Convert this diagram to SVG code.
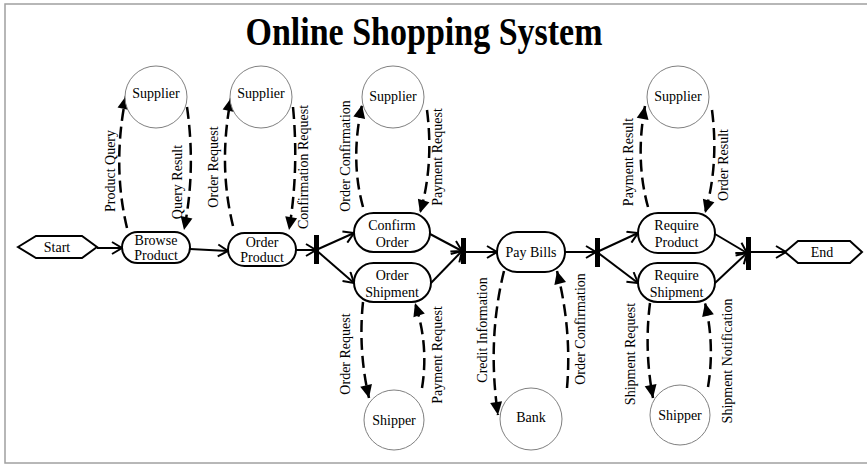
<svg xmlns="http://www.w3.org/2000/svg" width="867" height="466" viewBox="0 0 867 466">
<style>
  text { font-family: "Liberation Serif", "Times New Roman", serif; font-size: 14px; fill: #000; }
  .title { font-size: 34px; font-weight: bold; }
  .node { fill: #fff; stroke: #000; stroke-width: 2; }
  .actor { fill: #fff; stroke: #808080; stroke-width: 1; }
  .flow { fill: none; stroke: #000; stroke-width: 2; marker-end: url(#open); }
  .msg { fill: none; stroke: #000; stroke-width: 2.5; stroke-dasharray: 12 6; marker-end: url(#tri); }
  .bar { fill: #000; }
  .c { text-anchor: middle; }
</style>
<defs>
  <marker id="open" markerUnits="userSpaceOnUse" viewBox="-12 -7 14 14" refX="0" refY="0" markerWidth="14" markerHeight="14" orient="auto">
    <path d="M-10,-6 L0,0 L-10,6" fill="none" stroke="#000" stroke-width="2"/>
  </marker>
  <marker id="tri" markerUnits="userSpaceOnUse" viewBox="-14 -7 15 14" refX="0" refY="0" markerWidth="15" markerHeight="14" orient="auto">
    <path d="M-13,-6 L0,0 L-13,6 Z" fill="#000"/>
  </marker>
</defs>
<rect x="5" y="4" width="870" height="459" fill="#fff" stroke="#a0a0a0" stroke-width="1.5"/>
<text class="title c" transform="translate(424,45) scale(1,1.2)">Online Shopping System</text>

<g id="connectors">
  <path class="flow" d="M97,248 L122,248"/>
  <path class="flow" d="M190,249 L228,251"/>
  <path class="flow" d="M296,250 L316,250"/>
  <path class="flow" d="M316,250 L354,233"/>
  <path class="flow" d="M316,250 L354,283"/>
  <path class="flow" d="M430,234 L462,251"/>
  <path class="flow" d="M431,283 L462,251"/>
  <path class="flow" d="M463,252 L497,252"/>
  <path class="flow" d="M565,252 L596,252"/>
  <path class="flow" d="M597,252 L638,233"/>
  <path class="flow" d="M597,252 L638,283"/>
  <path class="flow" d="M715,234 L747,253"/>
  <path class="flow" d="M715,283 L747,253"/>
  <path class="flow" d="M748,252 L786,252"/>

  <path class="msg" d="M127,228 Q112,165 126,96"/>
  <path class="msg" d="M187,107 Q196,170 184,230"/>
  <path class="msg" d="M233,226 Q218,165 231,98"/>
  <path class="msg" d="M293,107 Q299,170 289,230"/>
  <path class="msg" d="M363,207 Q350,160 362,105"/>
  <path class="msg" d="M427,110 Q434,165 420,213"/>
  <path class="msg" d="M648,207 Q635,160 645,106"/>
  <path class="msg" d="M712,110 Q719,165 705,213"/>
  <path class="msg" d="M363,302 Q358,350 369,398"/>
  <path class="msg" d="M422,388 Q429,345 415,303"/>
  <path class="msg" d="M504,271 Q487,340 498,415"/>
  <path class="msg" d="M567,388 Q572,330 557,271"/>
  <path class="msg" d="M650,303 Q644,350 653,398"/>
  <path class="msg" d="M708,387 Q715,345 705,303"/>

  <text class="c" transform="translate(115,171) rotate(-90)">Product Query</text>
  <text class="c" transform="translate(182,182) rotate(-90)">Query Result</text>
  <text class="c" transform="translate(218,167) rotate(-90)">Order Request</text>
  <text class="c" transform="translate(308,167) rotate(-90)">Confirmation Request</text>
  <text class="c" transform="translate(350,156) rotate(-90)">Order Confirmation</text>
  <text class="c" transform="translate(442,157) rotate(-90)">Payment Request</text>
  <text class="c" transform="translate(633,162) rotate(-90)">Payment Result</text>
  <text class="c" transform="translate(728,165) rotate(-90)">Order Result</text>
  <text class="c" transform="translate(350,354) rotate(-90)">Order Request</text>
  <text class="c" transform="translate(442,355) rotate(-90)">Payment Request</text>
  <text class="c" transform="translate(487,330) rotate(-90)">Credit Information</text>
  <text class="c" transform="translate(585,329) rotate(-90)">Order Confirmation</text>
  <text class="c" transform="translate(635,354) rotate(-90)">Shipment Request</text>
  <text class="c" transform="translate(732,361) rotate(-90)">Shipment Notification</text>
</g>

<g id="start">
  <polygon class="node" points="18,247 36,236 82,236 97,247 82,258 36,258"/>
  <text class="c" x="57" y="252">Start</text>
</g>
<g id="browse-product">
  <rect class="node" x="122" y="232" width="68" height="31" rx="15.5"/>
  <text class="c" x="156" y="245">Browse</text>
  <text class="c" x="156" y="260">Product</text>
</g>
<g id="order-product">
  <rect class="node" x="228" y="233" width="68" height="33" rx="16.5"/>
  <text class="c" x="262" y="247">Order</text>
  <text class="c" x="262" y="262">Product</text>
</g>
<g id="fork1"><rect class="bar" x="314" y="235" width="5" height="29"/></g>
<g id="confirm-order">
  <rect class="node" x="354" y="213" width="76" height="39" rx="19.5"/>
  <text class="c" x="392" y="230">Confirm</text>
  <text class="c" x="392" y="247">Order</text>
</g>
<g id="order-shipment">
  <rect class="node" x="354" y="263" width="77" height="39" rx="19.5"/>
  <text class="c" x="392" y="280">Order</text>
  <text class="c" x="392" y="297">Shipment</text>
</g>
<g id="join1"><rect class="bar" x="461" y="238" width="5" height="26"/></g>
<g id="pay-bills">
  <rect class="node" x="497" y="232" width="68" height="40" rx="20"/>
  <text class="c" x="531" y="257">Pay Bills</text>
</g>
<g id="fork2"><rect class="bar" x="595" y="238" width="5" height="29"/></g>
<g id="require-product">
  <rect class="node" x="638" y="213" width="77" height="40" rx="20"/>
  <text class="c" x="676.5" y="230">Require</text>
  <text class="c" x="676.5" y="247">Product</text>
</g>
<g id="require-shipment">
  <rect class="node" x="638" y="263" width="77" height="39" rx="19.5"/>
  <text class="c" x="676.5" y="280">Require</text>
  <text class="c" x="676.5" y="297">Shipment</text>
</g>
<g id="join2"><rect class="bar" x="746" y="237" width="5" height="33"/></g>
<g id="end">
  <polygon class="node" points="785,252 798,241 850,241 862,252 850,263 798,263"/>
  <text class="c" x="822" y="257">End</text>
</g>

<g id="supplier1"><circle class="actor" cx="156" cy="97" r="31"/><text class="c" x="156" y="98">Supplier</text></g>
<g id="supplier2"><circle class="actor" cx="261" cy="97" r="31"/><text class="c" x="261" y="98">Supplier</text></g>
<g id="supplier3"><circle class="actor" cx="393" cy="97" r="31"/><text class="c" x="393" y="101">Supplier</text></g>
<g id="supplier4"><circle class="actor" cx="678" cy="97" r="31"/><text class="c" x="678" y="101">Supplier</text></g>
<g id="shipper1"><circle class="actor" cx="394" cy="420" r="30"/><text class="c" x="394" y="425">Shipper</text></g>
<g id="bank"><circle class="actor" cx="531" cy="419" r="31"/><text class="c" x="531" y="422">Bank</text></g>
<g id="shipper2"><circle class="actor" cx="680" cy="415" r="30"/><text class="c" x="680" y="420">Shipper</text></g>
</svg>
